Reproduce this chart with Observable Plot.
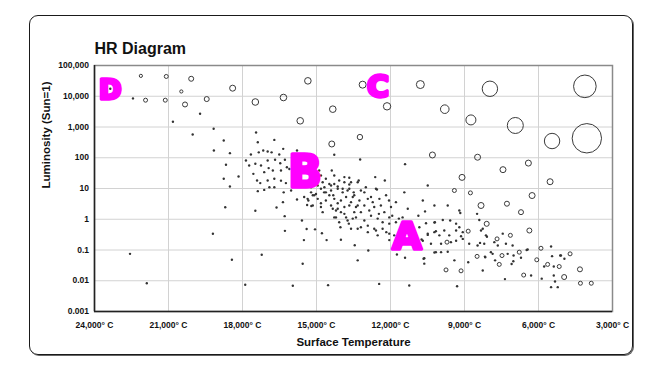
<!DOCTYPE html>
<html><head><meta charset="utf-8">
<script src="https://cdn.jsdelivr.net/npm/d3@7"></script>
<script src="https://cdn.jsdelivr.net/npm/@observablehq/plot@0.6"></script>
<style>
html,body{margin:0;padding:0;background:#fff;}
#wrap{position:relative;width:666px;height:380px;overflow:hidden;font-family:"Liberation Sans",Arial,sans-serif;}
#frame{position:absolute;left:29px;top:15px;width:602px;height:338px;border:1.5px solid #1a1a1a;border-radius:9px;box-shadow:1px 1px 0 #666;pointer-events:none;z-index:2;}
#wrap svg{position:absolute;left:0;top:0;}
</style></head><body><div id="wrap"><div id="frame"></div></div>
<script>
const chartTitle = "HR Diagram";
const xTitle = "Surface Temperature";
const yTitle = "Luminosity (Sun=1)";
const tempTicks = [24000, 21000, 18000, 15000, 12000, 9000, 6000, 3000];
const lumTicks = [0.001, 0.01, 0.1, 1, 10, 100, 1000, 10000, 100000];

// Giant / bright stars drawn as open bubbles: [temperature °C, luminosity, relative radius]
const ringStars = [
  [22120, 46000, 1.6], [21090, 44000, 2], [20080, 37000, 2.5], [20480, 14300, 1.6],
  [21930, 7450, 2], [21130, 7450, 2], [20330, 5400, 2.5], [19450, 8100, 2.5],
  [18400, 18300, 3], [15350, 31700, 3.3], [17480, 6500, 3.3], [16340, 9100, 3.3],
  [14340, 3800, 3.3], [15660, 1590, 3.3], [14380, 280, 3], [13130, 23800, 3.5],
  [12140, 4700, 3.7], [10790, 24000, 4], [9800, 3800, 4.3], [8740, 1700, 5],
  [7970, 17500, 7.7], [4120, 21000, 11.3], [6940, 1120, 8], [5450, 350, 7.7],
  [4040, 430, 14.7], [13240, 470, 2.7], [10300, 123, 3], [8470, 104, 3],
  [9100, 23, 3], [7440, 41, 3], [6410, 67, 3], [5530, 16.6, 3],
  [9410, 8.6, 2], [8760, 7.2, 2], [6260, 5.9, 3], [8330, 2.8, 3],
  [7280, 3.2, 2.5], [6710, 1.7, 2.5], [8100, 0.71, 2.5], [6370, 0.43, 2.5],
  [8850, 0.41, 2], [9710, 0.18, 2], [7680, 0.23, 2], [7140, 0.3, 2],
  [6780, 0.085, 2], [5900, 0.114, 2], [4720, 0.075, 2], [8490, 0.062, 2],
  [7590, 0.034, 2], [7480, 0.066, 2], [6070, 0.048, 2], [5630, 0.034, 2],
  [5160, 0.029, 2], [9750, 0.0225, 2], [9140, 0.021, 2], [6600, 0.0153, 2],
  [4960, 0.0132, 2.5], [4320, 0.0235, 2.5], [4300, 0.0083, 2], [3860, 0.0083, 2]
];

// Ordinary stars drawn as small dots: [temperature °C, luminosity]
const dotStars = [
  [23360, 17500], [22440, 8500], [19720, 2690], [20820, 1480], [19170, 880], [20020, 570],
  [18760, 364], [19160, 172], [18510, 141], [18670, 59], [18160, 24.6], [18760, 20.7],
  [18510, 11.6], [18700, 2.46], [17480, 1.88], [19200, 0.336], [22560, 0.075], [21880, 0.0083],
  [18430, 0.048], [17220, 0.07], [17890, 0.0074], [15960, 0.0069], [14530, 0.0072], [15560, 0.0356],
  [16280, 0.42], [16290, 1.26], [16620, 2.4], [15590, 0.91], [15400, 0.48], [15060, 0.47],
  [15510, 0.21], [14780, 0.35], [14590, 0.21], [14010, 0.215], [13450, 0.143],
  [17450, 660], [16710, 380], [17380, 320], [16350, 195], [17660, 128], [17340, 150],
  [17160, 172], [16980, 160], [16820, 150], [16510, 128], [17730, 56], [17480, 64],
  [16980, 81], [16680, 86], [16470, 66], [16280, 86], [16200, 49], [17560, 30],
  [17120, 34], [16940, 46], [16770, 38.5], [16440, 38.5], [17410, 18.2], [17280, 15],
  [16980, 18.2], [16710, 20.7], [16440, 18], [16240, 15], [17380, 8.2], [17120, 9],
  [16910, 11], [16710, 11], [16330, 7.5], [17250, 56], [17860, 81], [16100, 43],
  [16360, 3.6], [15790, 4.4], [15210, 2.7],
  [15500, 5.3], [15330, 4.06], [15090, 6], [14950, 4.6], [14820, 3.3], [14620, 4.06],
  [14480, 6], [14280, 4.6], [14410, 2.8], [14140, 3.3], [14210, 1.93], [14010, 1.7],
  [13870, 2.5], [13670, 2.8], [13800, 1.15], [13690, 0.72], [13530, 1.05], [13470, 1.7],
  [14690, 7.5], [14410, 8.6], [14140, 9.8], [13940, 7.5], [13740, 8.6], [13530, 5.3],
  [14820, 9.8], [15220, 7.5], [15380, 2.9],
  [14820, 26.5], [14620, 20.7], [14380, 38.5], [14280, 26.5], [14080, 18.2], [13870, 23.5],
  [13670, 22.3], [14950, 12.5], [14680, 11], [14410, 12.5], [14140, 11.6], [13940, 9.8],
  [13670, 13.5], [15090, 49], [14890, 38.5], [14280, 125], [14750, 16], [14480, 14],
  [14620, 7.5], [14320, 6], [15150, 6], [15220, 11], [15020, 6.6], [15360, 4.6],
  [15150, 2.8], [14820, 2.5], [14140, 2.2], [14750, 1.7], [14280, 1.15], [14080, 0.8],
  [15630, 81], [15950, 26], [15790, 172], [15420, 12.5], [16030, 8.6],
  [13230, 88], [11410, 62], [10490, 12.5], [11440, 7.5], [13870, 16], [13290, 18.2],
  [12620, 23.5], [12230, 18.2], [12590, 9.8], [12180, 6], [12790, 5.3], [13060, 7.5], [13490, 7.5],
  [14280, 14], [13600, 16], [13330, 16], [13670, 9.8], [13470, 6], [13200, 8.6],
  [12920, 4.6], [12550, 9.3], [14010, 4.06], [13800, 5.3], [13600, 3.6], [13260, 4.06],
  [13060, 2.8], [12720, 3.6], [12450, 4.6], [14340, 2.2], [13870, 1.5], [13400, 2.5],
  [13200, 1.7], [12860, 1.93], [12660, 2.5], [12390, 2.8], [12250, 1.7], [11980, 2.5],
  [11780, 3.6], [10690, 4.06], [10220, 2.8], [9680, 2.8], [9170, 1.6],
  [14210, 1.15], [13740, 0.91], [13400, 1.15], [13060, 0.91], [12790, 1.3], [12520, 1.05],
  [12320, 0.8], [12050, 1.15], [11780, 0.8], [11510, 1.15], [11170, 0.8], [10870, 1.3],
  [10560, 0.74], [10200, 0.8], [9880, 0.95], [9580, 0.91], [9340, 0.72], [8400, 0.95],
  [14030, 0.55], [13600, 0.49], [13200, 0.55], [12920, 0.38], [12590, 0.43], [12320, 0.49],
  [12050, 0.34], [11170, 0.43], [10830, 0.55], [10490, 0.34], [10160, 0.41], [9820, 0.43],
  [9620, 0.3], [9340, 0.43], [9210, 0.55], [9070, 0.38], [8330, 0.43], [8130, 0.3], [7450, 0.34],
  [12900, 0.096], [12050, 0.21], [11750, 0.14], [11100, 0.38], [10690, 0.2], [10360, 0.16],
  [9950, 0.16], [9340, 0.2], [9070, 0.23], [8810, 0.16], [8470, 0.14], [8200, 0.16],
  [7790, 0.18], [7650, 0.14], [7320, 0.16], [7050, 0.14], [6440, 0.104], [5490, 0.13], [5090, 0.066],
  [11410, 0.056], [11740, 0.071], [10660, 0.052], [10630, 0.036], [10160, 0.085], [9950, 0.085],
  [9680, 0.088], [9410, 0.046], [8850, 0.04], [8160, 0.058], [7930, 0.085], [7760, 0.046],
  [7020, 0.043], [5770, 0.029], [5380, 0.029], [4950, 0.052],
  [8260, 0.0215], [6300, 0.0148], [5870, 0.0117], [5380, 0.0148], [5330, 0.0095], [5490, 0.0062],
  [5220, 0.0062], [7360, 0.0113], [9300, 0.0066], [11240, 0.007], [12460, 0.0079], [13330, 0.046],
  [13000, 11], [13330, 2.8], [12060, 4.06], [12470, 1.5], [11930, 1.3], [11660, 1.05],
  [12050, 0.72], [13330, 0.49], [12920, 0.62], [12660, 0.49], [12170, 0.38], [11850, 0.3],
  [12520, 0.3], [11300, 2.2], [10600, 1.8], [10220, 0.78], [9210, 1.93], [10740, 0.22],
  [10490, 0.31], [10220, 0.38], [10020, 0.3], [9550, 0.18], [10220, 0.083], [10630, 0.054],
  [9140, 0.28], [8370, 0.17], [8490, 1.5],
  [8090, 0.27], [8170, 0.061], [7860, 0.075], [7250, 0.075], [7010, 0.066], [7090, 0.035],
  [6710, 0.056], [6480, 0.1], [5450, 0.063], [5120, 0.066], [8260, 0.49]
];

// Hand-drawn region letters
const letterNames = ["D", "B", "C", "A"];
const letterTemp = [23360, 15470, 12510, 11330];
const letterLum = [15500, 31, 19000, 0.27];
const letterSize = [27, 44, 30, 38];

const fmt = d3.format(",");
const letterMarks = letterNames.map((name, i) =>
  Plot.text([name], {
    x: () => letterTemp[i], y: () => letterLum[i], text: d => d,
    fontSize: letterSize[i], fontWeight: 900, fontFamily: "DejaVu Sans",
    fill: "#ff00ff", stroke: "#ff00ff", strokeWidth: 3.5, strokeLinejoin: "round"
  })
);

const chart = Plot.plot({
  width: 666, height: 380,
  marginLeft: 94, marginRight: 54, marginTop: 65, marginBottom: 69,
  style: {background: "transparent", fontFamily: "Liberation Sans, Arial, sans-serif", color: "#111"},
  x: {type: "linear", domain: [24000, 3000]},
  y: {type: "log", domain: [0.001, 100000]},
  r: {type: "linear", domain: [0, 15], range: [0, 15]},
  marks: [
    Plot.gridX(tempTicks, {stroke: "#d2d2d2", strokeOpacity: 1}),
    Plot.gridY(lumTicks, {stroke: "#d2d2d2", strokeOpacity: 1}),
    Plot.frame({stroke: "#8a8a8a", strokeWidth: 1.5}),
    Plot.ruleX([24000], {stroke: "#222", strokeWidth: 1.5}),
    Plot.ruleY([0.001], {stroke: "#222", strokeWidth: 1.5}),
    Plot.axisX(tempTicks, {tickSize: 0, tickPadding: 10, tickFormat: d => fmt(d) + "° C",
      fontSize: 8.5, fontWeight: "bold", label: null}),
    Plot.axisY(lumTicks, {tickSize: 0, tickPadding: 5.5, tickFormat: fmt,
      fontSize: 8.5, fontWeight: "bold", label: null}),
    Plot.dot(dotStars, {x: d => d[0], y: d => d[1], r: 1.2, fill: "#333", stroke: null}),
    Plot.dot(ringStars, {x: d => d[0], y: d => d[1], r: d => d[2], fill: "none", stroke: "#3a3a3a", strokeWidth: 1}),
    ...letterMarks,
    Plot.text([chartTitle], {frameAnchor: "top-left", dy: -22.5, textAnchor: "start", fontSize: 16, fontWeight: "bold", fill: "#111"}),
    Plot.text([xTitle], {frameAnchor: "bottom", dy: 34.5, fontSize: 11.5, fontWeight: "bold", fill: "#111"}),
    Plot.text([yTitle], {frameAnchor: "left", dx: -48, rotate: -90, fontSize: 11.5, fontWeight: "bold", fill: "#111"})
  ]
});
document.getElementById("wrap").appendChild(chart);
</script>
</body></html>
